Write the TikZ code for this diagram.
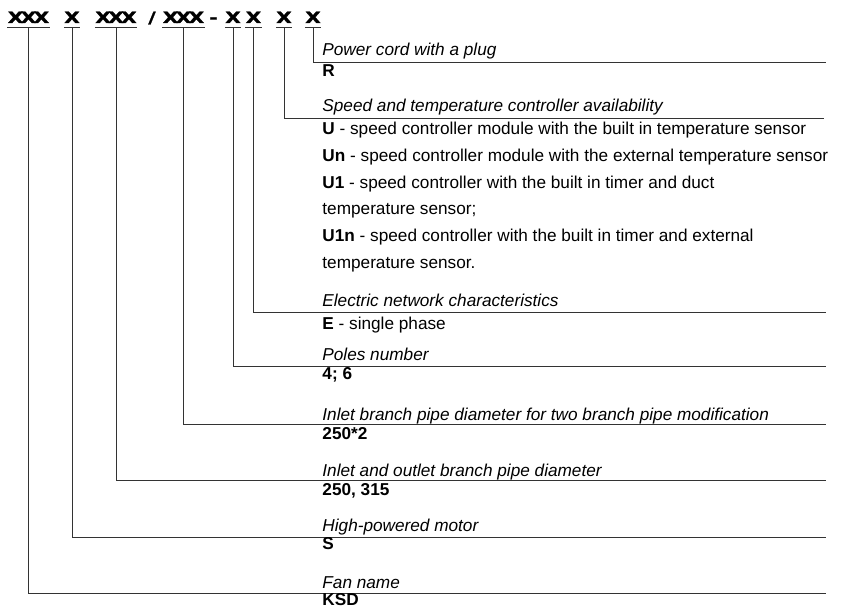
\documentclass[tikz,border=0pt]{standalone}
\usepackage{fontspec}
\setmainfont{Liberation Sans}
\newfontfamily\hdfont{DejaVu Sans}[BoldFeatures={FakeBold=1.2}]
\usepackage{graphicx}
\usetikzlibrary{positioning}

% wide heavy letters of the code line
\newcommand{\hx}[1]{\scalebox{1.3}[1]{\fontsize{15.5}{16}\hdfont\bfseries #1}}
\newcommand{\tx}{X\kern-2pt X\kern-2pt X}

\begin{document}
\begin{tikzpicture}[x=1pt, y=-1pt, line width=0.9pt,
    every node/.style={inner sep=0pt, font=\fontsize{17.2}{20}\selectfont},
    head/.style={anchor=base},
    lbl/.style={anchor=base west, font=\fontsize{17.2}{20}\selectfont\itshape},
    val/.style={anchor=base west},
    leg/.style={draw=black!80}]
    \useasboundingbox (0,0) rectangle (855,609);

    % 1. Code line
    \node[head] (g1) at (28.5,23) {\hx{\tx}};
    \node[head] (g2) at (72,23) {\hx{X}};
    \node[head] (g3) at (116,23) {\hx{\tx}};
    \node[head] (sl) at (152,23) {\hx{/}};
    \node[head] (g4) at (183.5,23) {\hx{\tx}};
    \node[head] (dh) at (213.5,23) {\hx{-}};
    \node[head] (g5) at (233,23) {\hx{X}};
    \node[head] (g6) at (253.5,23) {\hx{X}};
    \node[head] (g7) at (284,23) {\hx{X}};
    \node[head] (g8) at (313,23) {\hx{X}};

    % 2. Underlines and their start points
    \foreach \g in {g1,g2,g3,g4,g5,g6,g7,g8} {
        \draw[leg] ([yshift=-3.7pt]\g.south west) -- ([yshift=-3.7pt]\g.south east);
        \coordinate (u\g) at ([yshift=-3.7pt]\g.south);
    }

    % 3. Right ends of the leader lines
    \coordinate (e8) at (826,62);
    \coordinate (e7) at (824,118);
    \coordinate (e6) at (826,312.5);
    \coordinate (e5) at (826,366.7);
    \coordinate (e4) at (826,424.5);
    \coordinate (e3) at (826,480.3);
    \coordinate (e2) at (826,537);
    \coordinate (e1) at (826,593);

    % 4. Leader lines
    \foreach \i in {1,...,8}
        \draw[leg] (ug\i) |- (e\i);

    % 5. Texts
    \node[lbl] (t8) at (322,56) {Power cord with a plug};
    \node[val] (v8) at (322,77) {\textbf{R}};

    \node[lbl] (t7) at (322,112) {Speed and temperature controller availability};
    \node[val] (v7a) at (322,135) {\textbf{U} - speed controller module with the built in temperature sensor};
    \node[val] (v7b) at (322,161.7) {\textbf{Un} - speed controller module with the external temperature sensor};
    \node[val] (v7c) at (322,188.3) {\textbf{U1} - speed controller with the built in timer and duct};
    \node[val] (v7d) at (322,215) {temperature sensor;};
    \node[val] (v7e) at (322,241.7) {\textbf{U1n} - speed controller with the built in timer and external};
    \node[val] (v7f) at (322,268.3) {temperature sensor.};

    \node[lbl] (t6) at (322,306.7) {Electric network characteristics};
    \node[val] (v6) at (322,329.3) {\textbf{E} - single phase};

    \node[lbl] (t5) at (322,360.5) {Poles number};
    \node[val] (v5) at (322,379.3) {\textbf{4; 6}};

    \node[lbl] (t4) at (322,420.7) {Inlet branch pipe diameter for two branch pipe modification};
    \node[val] (v4) at (322,440) {\textbf{250*2}};

    \node[lbl] (t3) at (322,476.7) {Inlet and outlet branch pipe diameter};
    \node[val] (v3) at (322,496) {\textbf{250, 315}};

    \node[lbl] (t2) at (322,531.7) {High-powered motor};
    \node[val] (v2) at (322,550) {\textbf{S}};

    \node[lbl] (t1) at (322,588.3) {Fan name};
    \node[val] (v1) at (322,606) {\textbf{KSD}};
\end{tikzpicture}
\end{document}
